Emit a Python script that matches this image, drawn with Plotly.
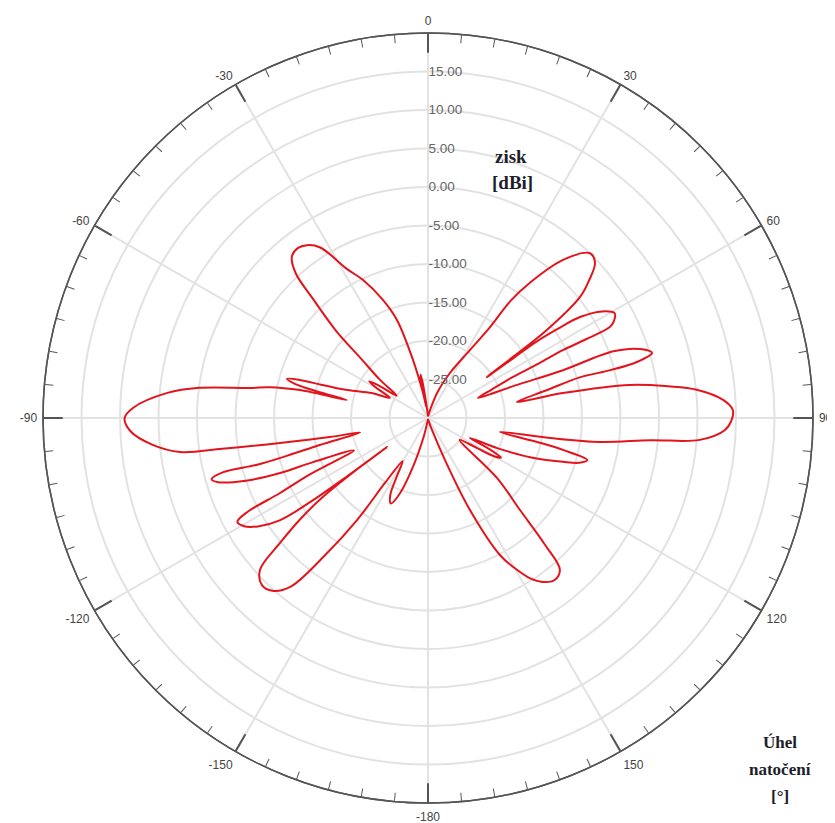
import plotly.graph_objects as go

# Radiation pattern: rotation angle [deg] and gain [dBi]
theta_deg = [
    -180, -172,
    -167, -163, -159.5, -156.5, -154, -152, -149.5,
    -146.5, -145.2, -143, -140.8, -138, -135.2, -132.1, -130.2, -128.3, -126.9, -126, -125.3,
    -125.8, -125.5, -124.6, -122.5, -120.5, -118.6, -117.5, -116.9, -115.5, -113.6,
    -111, -110.4, -109, -107, -105.8, -104.8, -105.3, -105, -104, -102,
    -101, -99.6, -98.5, -97.8, -95.5, -92.5, -90, -88, -84.5, -82.5, -80.4, -79, -77.7, -77.5,
    -76.5, -75.5, -74.5, -73.5, -73, -70.9, -66, -62.2,
    -59.5, -58, -56.5, -54.5,
    -51.5, -48.5, -46.5, -44, -42.4, -40.2, -37.5, -35, -32.3, -28.5, -25.2, -21, -17.6, -14.5, -11.5, -9,
    -11, -10.5, -9.5, -8.5, -7, -4,
    0, 6, 11,
    14, 20, 26, 31.7, 34.3, 35.2, 37, 40.5, 44.5, 47.1, 49.5, 51.5, 53.5, 54.3, 55.2,
    55, 54.8, 55.5, 56.4, 58.5, 60.7, 62.5, 63.4, 63.5, 63.3, 63.8, 64.2, 66, 68.2,
    69.5, 70.5, 70.2, 72, 73.8, 75, 75.3, 75, 76.8, 79.8,
    79.5, 80.7, 82.5, 84, 86.5, 88.5, 90.5, 92.3, 94.6, 95.7, 97.9, 99.3, 101,
    102.5, 103.3, 104.8, 106.5, 108, 111, 113.5, 115.5,
    117, 118.5, 120, 121.5, 124.5,
    131, 135, 137.3, 139, 142, 145, 147.5, 150, 152.3, 155.5, 158, 162, 168, 175, 180,
]
gain_dbi = [
    -29.8, -29.5,
    -27.5, -23.5, -19.5, -17.9, -18.8, -21.3, -23.5,
    -20, -13.9, -7.4, -1.7, 0.2, 0.6, -0.6, -4.8, -9, -13, -18, -23.5,
    -17, -11, -6.6, -3.8, -2.3, -1.8, -3.5, -8.4, -13, -19.5,
    -14, -9.5, -5, -1.5, -0.8, -2.5, -7, -11, -15.5, -21,
    -17, -10.5, -3, 2.5, 6, 8.7, 9.4, 8.3, 4, 0, -6.6, -9, -13, -19.2,
    -15, -12, -11, -12.5, -14.4, -18.9, -22, -24.4,
    -22, -21, -22.5, -25,
    -22, -18.5, -13.5, -8.5, -4.5, -2.6, -2.2, -2.6, -3.8, -8, -10.2, -13.5, -16.6, -22.2, -26.5, -28.5,
    -26.5, -24.8, -24.3, -25.5, -28, -29.5,
    -29.7, -29.7, -29.4,
    -29, -26.5, -23.5, -19.6, -15.7, -11.3, -8, -3, 0, -0.4, -2.5, -4.8, -10.8, -16.4, -20.7,
    -16.5, -13, -9.5, -6.3, -3.5, -2.2, -2.8, -3.6, -7, -10.4, -14, -17.8, -21, -23,
    -18, -11.4, -4.4, -1, 0.3, -1.9, -5.5, -9.6, -14.1, -18.3,
    -12.2, -3.4, 1.5, 5.1, 8.4, 9.6, 9.4, 8.6, 5.4, -1, -7.4, -13.9, -20.5,
    -15, -12, -8.6, -9.5, -11.6, -15.8, -20.2, -24,
    -21, -19.2, -20, -22.5, -25,
    -18.1, -13.1, -7.6, -3.9, -3.3, -4, -5.3, -7.5, -9.9, -16.9, -24.1, -28.5, -29.6, -29.8, -29.8,
]

radial_range = [-30, 20]
radial_ticks = [-25, -20, -15, -10, -5, 0, 5, 10, 15]
radial_labels = ["-25.00", "-20.00", "-15.00", "-10.00", "-5.00", "0.00", "5.00", "10.00", "15.00"]
angle_ticks = [0, 30, 60, 90, 120, 150, 180, 210, 240, 270, 300, 330]
angle_labels = ["0", "30", "60", "90", "120", "150", "-180", "-150", "-120", "-90", "-60", "-30"]
minor_angle_ticks = list(range(0, 360, 5))

# page body has an 8px margin: figure is drawn offset by 8px
OFF = 8
W, H = 835 - OFF, 823 - OFF
cx, cy, R = 428 - OFF, 418 - OFF, 385
dom_x = [(cx - R) / W, (cx + R) / W]
dom_y = [1 - (cy + R) / H, 1 - (cy - R) / H]

fig = go.Figure()
fig.add_trace(go.Scatterpolar(
    r=gain_dbi, theta=theta_deg, mode="lines",
    line=dict(color="#e2141c", width=2, shape="spline", smoothing=1.0),
    subplot="polar", showlegend=False, hoverinfo="skip",
))
for sp in ("polar2", "polar3"):
    fig.add_trace(go.Scatterpolar(r=[], theta=[], mode="lines", subplot=sp,
                                  showlegend=False, hoverinfo="skip"))

axis_gray = "#555555"
grid_gray = "#e2e2e2"
clear = "rgba(0,0,0,0)"

fig.update_layout(
    width=W, height=H,
    margin=dict(l=0, r=0, t=0, b=0),
    paper_bgcolor="white",
    showlegend=False,
    polar=dict(
        domain=dict(x=dom_x, y=dom_y),
        bgcolor="white",
        radialaxis=dict(
            range=radial_range, tickvals=radial_ticks, ticktext=radial_labels,
            angle=90, tickangle=90, side="clockwise",
            showline=False, ticks="", gridcolor=grid_gray, gridwidth=1.5,
            tickfont=dict(family="Liberation Sans, Arial", size=13.5, color="#666666"),
        ),
        angularaxis=dict(
            rotation=90, direction="clockwise",
            tickvals=angle_ticks, showticklabels=False,
            ticks="inside", ticklen=19, tickwidth=1.5, tickcolor=axis_gray,
            showline=True, linecolor=axis_gray, linewidth=1.5,
            gridcolor=grid_gray, gridwidth=1.5,
        ),
    ),
    polar2=dict(
        domain=dict(x=dom_x, y=dom_y),
        bgcolor=clear,
        radialaxis=dict(range=radial_range, visible=False, showgrid=False),
        angularaxis=dict(
            rotation=90, direction="clockwise",
            tickvals=minor_angle_ticks, showticklabels=False,
            ticks="inside", ticklen=8, tickwidth=1.3, tickcolor=axis_gray,
            showline=True, linecolor=axis_gray, linewidth=1.5,
            showgrid=False,
        ),
    ),
    polar3=dict(
        domain=dict(x=dom_x, y=dom_y),
        bgcolor=clear,
        radialaxis=dict(range=radial_range, visible=False, showgrid=False),
        angularaxis=dict(
            rotation=90, direction="clockwise",
            tickvals=angle_ticks, ticktext=angle_labels,
            ticks="outside", ticklen=3, tickcolor=clear,
            showline=False, showgrid=False,
            tickfont=dict(family="Liberation Sans, Arial", size=12, color="#444444"),
        ),
    ),
)

font_top = dict(family="Liberation Serif, Times New Roman, serif", size=19, color="#1e1e2a")
font_br = dict(family="Liberation Serif, Times New Roman, serif", size=17, color="#1e1e2a")
for txt, x, y, f in [("<b>zisk</b>", 511, 156, font_top), ("<b>[dBi]</b>", 512, 183, font_top),
                     ("<b>Úhel</b>", 780, 742, font_br), ("<b>natočení</b>", 780, 769, font_br),
                     ("<b>[°]</b>", 780, 796, font_br)]:
    fig.add_annotation(text=txt, x=(x - OFF) / W, y=1 - (y - OFF) / H, xref="paper", yref="paper",
                       xanchor="center", yanchor="middle", showarrow=False, font=f)

fig.write_html("out.html")
